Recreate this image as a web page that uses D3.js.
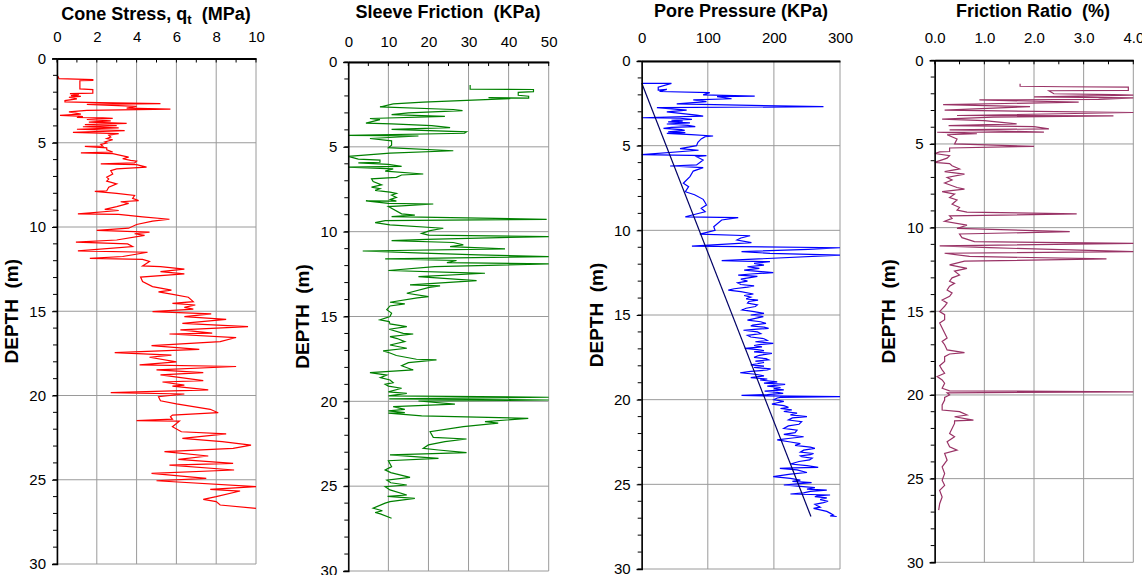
<!DOCTYPE html>
<html>
  <head>
    <meta charset="utf-8">
    <title>CPT profile</title>
    <script src="https://d3js.org/d3.v7.min.js"></script>
    <style>
      body { margin: 0; background: #fff; }
      svg { font-family: "Liberation Sans", Arial, sans-serif; }
      .grid line { stroke: #9a9a9a; stroke-width: 1; }
      .tick text { font-size: 15px; fill: #000; }
      .title { font-size: 18px; font-weight: bold; }
      .ylabel { font-size: 19px; font-weight: bold; }
      .trace { fill: none; stroke-width: 1.2; stroke-linejoin: miter; }
    </style>
  </head>
  <body>
    <svg id="chart" width="1142" height="575"></svg>
    <script>
      // depth (m), value pairs
      var coneStress = [
        [1.05,0.05],[1.2,0.1],[1.25,1.8],[1.3,1.8],[1.32,1.15],[1.8,1.15],[1.85,1.8],[2.05,1.8],[2.08,0.65],[2.15,1.1],
        [2.2,0.7],[2.25,1.2],[2.3,0.6],[2.4,1.0],[2.5,0.4],[2.58,0.4],[2.62,2.1],[2.68,5.2],[2.72,1.5],[2.84,4.0],
        [2.95,3.5],[3.0,5.7],[3.08,1.5],[3.17,0.6],[3.3,1.2],[3.38,0.15],[3.42,1.1],[3.45,1.3],[3.5,1.0],[3.52,2.3],
        [3.55,2.8],[3.62,1.5],[3.7,2.7],[3.78,1.6],[3.85,3.5],[3.92,1.4],[3.98,3.0],[4.05,1.3],[4.12,3.1],[4.2,1.0],
        [4.28,3.4],[4.38,0.8],[4.46,3.1],[4.55,2.6],[4.66,2.7],[4.75,2.5],[4.82,2.8],[4.95,2.4],[5.02,2.5],[5.1,2.2],
        [5.2,2.3],[5.22,1.4],[5.3,2.5],[5.42,2.5],[5.55,2.8],[5.6,1.2],[5.65,2.8],[5.75,3.2],[5.85,3.6],[5.95,3.3],
        [6.05,3.7],[6.09,4.0],[6.2,3.9],[6.25,2.2],[6.3,4.0],[6.45,4.5],[6.55,3.0],[6.65,2.7],[6.85,2.8],[7.04,2.5],
        [7.15,2.6],[7.28,2.5],[7.44,3.0],[7.64,2.6],[7.85,2.5],[7.88,1.9],[8.0,3.0],[8.13,3.9],[8.3,3.8],[8.43,4.1],
        [8.5,3.2],[8.6,3.6],[8.79,3.0],[8.95,2.4],[9.02,3.1],[9.22,1.05],[9.25,3.1],[9.4,4.3],[9.54,5.65],[9.65,4.8],
        [9.85,4.0],[10.07,3.6],[10.2,2.0],[10.31,4.65],[10.4,3.9],[10.5,4.4],[10.77,3.0],[10.9,0.95],[11.0,3.55],[11.16,3.8],
        [11.42,1.05],[11.5,4.55],[11.75,3.3],[11.86,1.65],[11.92,4.3],[12.05,4.65],[12.31,4.3],[12.35,5.2],[12.5,6.4],[12.65,5.2],
        [12.78,6.4],[12.97,4.2],[13.24,4.3],[13.54,4.8],[13.75,5.75],[13.85,5.1],[13.98,5.75],[14.17,6.6],[14.43,6.85],[14.53,5.8],
        [14.63,6.95],[14.77,6.4],[14.87,6.85],[15.02,4.8],[15.16,7.75],[15.32,6.4],[15.48,8.5],[15.72,6.3],[15.91,9.6],[16.1,6.2],
        [16.3,7.8],[16.35,5.65],[16.56,9.0],[16.8,8.2],[17.04,4.75],[17.26,7.15],[17.45,2.9],[17.6,5.75],[17.73,4.65],[18.0,6.0],
        [18.18,4.15],[18.28,9.0],[18.48,5.0],[18.64,7.35],[18.78,5.2],[19.12,7.35],[19.2,5.3],[19.38,6.4],[19.44,5.8],[19.67,7.6],
        [19.83,2.7],[19.91,6.4],[20.07,5.1],[20.31,5.2],[20.5,6.0],[20.82,7.7],[21.02,8.1],[21.16,5.8],[21.26,5.7],[21.4,5.8],
        [21.49,4.0],[21.52,6.15],[21.85,5.8],[22.15,6.25],[22.28,8.5],[22.54,6.3],[22.74,8.3],[22.94,9.75],[23.14,8.85],[23.33,5.4],
        [23.59,7.6],[23.79,6.1],[24.03,8.85],[24.13,5.65],[24.42,8.9],[24.62,4.75],[24.92,7.5],[25.06,5.0],[25.41,10.0],[25.57,7.7],
        [25.67,9.2],[26.0,8.0],[26.16,7.35],[26.3,8.0],[26.5,8.2],[26.7,10.0]
      ];
      var sleeveFriction = [
        [1.35,30.4],[1.6,30.4],[1.62,46.2],[1.75,46.2],[1.79,42.4],[1.96,42.4],[2.02,45],[2.13,45],[2.1,35],[2.16,40.4],
        [2.37,18.7],[2.47,11.2],[2.65,7.9],[2.8,26.2],[2.87,28.5],[3.0,15],[3.1,10.8],[3.2,24.1],[3.33,5.4],[3.4,7.9],
        [3.6,4.4],[3.65,10.8],[3.75,20.8],[3.87,25.4],[3.97,10.8],[4.12,29.5],[4.2,29.0],[4.32,0],[4.36,17.5],[4.51,5.4],
        [4.65,10.8],[4.9,10.8],[5.05,10.0],[5.23,26.2],[5.37,10.4],[5.43,7.2],[5.56,0],[5.72,2.5],[5.78,7.9],[5.91,7.9],
        [5.95,2.5],[6.03,10.0],[6.15,13.3],[6.2,0],[6.3,11.2],[6.43,9.2],[6.6,18.7],[6.66,13.3],[6.8,12.0],[6.89,5.8],
        [7.05,6.2],[7.24,8.3],[7.37,5.8],[7.47,7.9],[7.57,6.7],[7.67,10.4],[7.75,12.0],[7.85,10.8],[7.98,12.0],[8.1,10.5],
        [8.2,12.0],[8.19,4.4],[8.33,10.0],[8.37,21.2],[8.48,13.3],[8.52,10.0],[8.95,13.3],[9.03,16.6],[9.11,10.8],[9.27,49.5],
        [9.35,9.2],[9.47,6.7],[9.6,10.4],[9.8,23.7],[9.94,20.4],[10.1,18.3],[10.2,20.0],[10.29,50],[10.45,19.5],[10.53,10.8],
        [10.64,26.2],[10.78,28.7],[10.88,25.4],[11.02,39.1],[11.14,3.6],[11.27,18.7],[11.37,32.4],[11.47,50],[11.6,9.2],[11.7,27],
        [11.82,24.6],[11.9,50],[12.06,21.6],[12.29,10.0],[12.41,27.9],[12.45,34.1],[12.65,17.5],[12.88,32.0],[13.14,15.4],[13.2,22.9],
        [13.28,20.2],[13.63,14.6],[13.83,20.0],[13.9,17.2],[14.16,10.4],[14.26,14.1],[14.38,10.4],[14.6,9.6],[14.8,10.8],[15.0,10.4],
        [15.2,7.9],[15.3,10.2],[15.44,10.4],[15.6,14.6],[15.75,10.2],[15.99,13.7],[16.03,16.2],[16.19,10.4],[16.3,12.2],[16.48,14.1],
        [16.68,10.4],[16.87,14.6],[17.03,8.7],[17.15,10.4],[17.3,12.0],[17.52,17.0],[17.56,22.0],[17.72,15.0],[17.9,13.3],[18.15,16.2],
        [18.31,5.4],[18.45,9.6],[18.6,8.0],[18.74,10.4],[18.9,11.2],[19.0,9.2],[19.1,10.0],[19.23,13.3],[19.44,10.0],[19.53,14.6],
        [19.68,10.0],[19.76,50],[19.86,10.2],[19.92,50],[19.98,17.5],[20.16,26.6],[20.31,11.2],[20.47,14.1],[20.56,10.0],[20.67,14.1],
        [20.7,10.0],[20.86,18.3],[21.0,44.9],[21.2,34.1],[21.29,37.4],[21.49,28.7],[21.79,20.4],[22.12,21.2],[22.22,29.5],[22.37,24.1],
        [22.57,20.0],[22.77,18.7],[22.87,22.5],[23.02,29.5],[23.16,10.4],[23.36,22.5],[23.5,10.0],[23.85,10.8],[24.04,9.2],[24.2,10.6],
        [24.48,15.4],[24.64,9.6],[24.8,10.6],[24.93,14.6],[25.03,9.2],[25.22,10.4],[25.52,14.6],[25.6,9.8],[25.72,16.6],[25.91,10.4],
        [26.0,9.2],[26.3,6.2],[26.45,8.5],[26.55,6.7],[26.63,8.0],[26.89,10.8]
      ];
      var porePressure = [
        [1.32,1],[1.32,45],[1.55,25],[1.72,25],[1.68,38],[1.8,27],[1.87,103],[2.0,93],[2.07,171],[2.1,114],
        [2.23,136],[2.3,78],[2.4,98],[2.53,53],[2.7,275],[2.75,23],[2.9,68],[3.0,38],[3.2,83],[3.25,93],
        [3.35,0],[3.38,58],[3.45,76],[3.5,45],[3.55,62],[3.6,40],[3.65,73],[3.72,38],[3.8,70],[3.88,81],
        [3.92,45],[3.98,33],[4.05,60],[4.1,65],[4.18,40],[4.23,66],[4.27,38],[4.35,75],[4.43,108],[4.47,96],
        [4.6,90],[4.8,85],[5.0,83],[5.17,58],[5.27,86],[5.53,0],[5.59,98],[5.65,83],[5.85,93],[6.14,83],
        [6.2,43],[6.3,93],[6.5,78],[6.83,73],[7.22,63],[7.42,71],[7.72,66],[7.9,80],[8.17,93],[8.3,95],
        [8.5,98],[8.7,90],[8.9,96],[9.2,66],[9.25,146],[9.39,121],[9.79,109],[10.0,111],[10.22,88],[10.32,164],
        [10.45,150],[10.57,144],[10.73,166],[10.93,76],[11.03,300],[11.12,252],[11.26,151],[11.36,194],[11.46,300],[11.79,121],
        [11.85,194],[11.95,170],[12.05,185],[12.15,160],[12.25,178],[12.35,155],[12.5,199],[12.58,165],[12.64,146],[12.72,175],
        [12.78,166],[12.88,150],[13.0,160],[13.1,145],[13.2,150],[13.28,170],[13.35,160],[13.45,140],[13.53,131],[13.62,150],
        [13.76,169],[13.85,155],[13.95,165],[14.05,158],[14.12,176],[14.2,162],[14.3,160],[14.4,175],[14.5,172],[14.6,158],
        [14.7,152],[14.8,170],[14.9,185],[15.0,165],[15.1,184],[15.2,172],[15.3,160],[15.4,180],[15.5,188],[15.6,168],
        [15.65,165],[15.72,185],[15.79,192],[15.85,170],[15.9,154],[16.0,175],[16.1,180],[16.2,160],[16.3,165],[16.4,185],
        [16.5,190],[16.58,172],[16.67,199],[16.75,178],[16.8,170],[16.88,182],[16.97,156],[17.05,175],[17.1,185],[17.18,170],
        [17.27,197],[17.38,178],[17.5,170],[17.58,188],[17.65,192],[17.72,172],[17.8,185],[17.88,175],[17.95,165],[18.02,185],
        [18.1,170],[18.18,195],[18.25,190],[18.33,165],[18.41,149],[18.5,172],[18.6,185],[18.7,165],[18.78,190],[18.84,179],
        [18.95,205],[19.02,185],[19.1,217],[19.2,190],[19.28,210],[19.35,200],[19.42,215],[19.5,186],[19.57,205],[19.63,214],
        [19.7,190],[19.75,151],[19.78,190],[19.82,300],[19.86,210],[19.9,205],[20.0,200],[20.1,215],[20.18,205],[20.26,197],
        [20.35,215],[20.45,222],[20.52,210],[20.6,227],[20.7,215],[20.8,235],[20.9,225],[21.0,250],[21.08,228],[21.2,222],
        [21.3,242],[21.45,238],[21.55,222],[21.7,215],[21.8,235],[21.95,232],[22.05,215],[22.19,245],[22.28,225],[22.38,205],
        [22.5,225],[22.6,240],[22.7,232],[22.8,255],[22.88,262],[22.98,245],[23.1,240],[23.18,260],[23.25,255],[23.32,240],
        [23.37,242],[23.45,258],[23.56,254],[23.65,238],[23.8,225],[23.9,250],[24.0,267],[24.03,230],[24.06,209],[24.15,235],
        [24.3,250],[24.4,225],[24.55,199],[24.65,225],[24.75,240],[24.82,228],[24.9,257],[24.97,235],[25.04,215],[25.12,240],
        [25.2,262],[25.28,250],[25.34,280],[25.42,255],[25.5,245],[25.57,225],[25.63,285],[25.68,265],[25.73,262],[25.8,280],
        [25.9,270],[26.0,282],[26.08,275],[26.18,262],[26.25,265],[26.35,270],[26.42,260],[26.55,275],[26.6,280],[26.7,285],
        [26.81,290],[26.87,285],[26.9,295]
      ];
      var hydrostatic = [[1.3,0],[26.9,256]];
      var frictionRatio = [
        [1.4,1.72],[1.55,1.72],[1.58,2.6],[1.6,3.9],[1.8,3.9],[1.82,2.3],[2.0,2.4],[2.05,3.6],[2.08,4.0],[2.18,2.0],
        [2.25,4.0],[2.33,3.3],[2.37,0.9],[2.5,2.9],[2.65,0.17],[2.77,1.92],[2.98,0.2],[3.12,4.0],[3.3,0.45],[3.32,3.6],
        [3.4,1.18],[3.51,0.15],[3.6,1.0],[3.8,1.65],[3.9,0.28],[3.96,2.0],[4.1,2.3],[4.16,0.3],[4.29,2.2],[4.3,0.05],
        [4.39,0.85],[4.45,0.25],[4.7,0.45],[5.0,0.4],[5.14,2.0],[5.24,0.3],[5.45,0.3],[5.47,0.1],[5.57,0.0],[5.7,0.3],
        [5.85,0.25],[6.1,0.0],[6.17,0.3],[6.3,0.35],[6.49,0.5],[6.65,0.2],[6.8,0.6],[7.0,0.25],[7.15,0.35],[7.33,0.2],
        [7.6,0.45],[7.7,0.6],[7.85,0.15],[8.0,0.4],[8.2,0.3],[8.35,0.45],[8.6,0.35],[8.8,0.5],[8.95,0.45],[9.07,0.65],
        [9.18,2.86],[9.3,0.3],[9.45,0.35],[9.62,0.2],[9.85,0.65],[10.05,0.45],[10.24,2.72],[10.38,0.5],[10.6,0.55],[10.84,0.8],
        [10.94,4.0],[11.09,0.1],[11.2,1.1],[11.43,4.0],[11.53,0.2],[11.72,0.7],[11.87,3.46],[12.0,0.6],[12.23,0.3],[12.43,0.65],
        [12.6,0.4],[12.83,0.5],[13.0,0.35],[13.2,0.3],[13.33,0.4],[13.5,0.3],[13.73,0.25],[13.9,0.35],[14.1,0.3],[14.33,0.15],
        [14.5,0.25],[14.7,0.2],[14.85,0.15],[15.02,0.1],[15.2,0.2],[15.5,0.2],[15.7,0.1],[16.0,0.15],[16.3,0.2],[16.6,0.25],
        [16.8,0.15],[17.0,0.2],[17.31,0.25],[17.47,0.6],[17.55,0.3],[17.71,0.2],[18.0,0.2],[18.25,0.1],[18.5,0.15],[18.7,0.2],
        [18.9,0.05],[19.1,0.15],[19.3,0.2],[19.6,0.15],[19.75,0.3],[19.81,4.0],[19.87,0.25],[20.0,0.3],[20.15,0.2],[20.3,0.2],
        [20.6,0.15],[20.9,0.15],[21.0,0.5],[21.2,0.65],[21.3,0.4],[21.5,0.78],[21.55,0.4],[21.7,0.4],[22.0,0.35],[22.3,0.3],
        [22.5,0.4],[22.8,0.25],[23.1,0.3],[23.3,0.45],[23.5,0.2],[23.9,0.25],[24.3,0.15],[24.7,0.2],[25.1,0.15],[25.4,0.2],
        [25.7,0.1],[26.1,0.15],[26.5,0.1],[26.88,0.08]
      ];

      // axis tick values
      var depthTicks = [0, 5, 10, 15, 20, 25, 30];
      var coneTicks = [0, 2, 4, 6, 8, 10];
      var sleeveTicks = [0, 10, 20, 30, 40, 50];
      var poreTicks = [0, 100, 200, 300];
      var ratioTicks = [0, 1, 2, 3, 4];

      var svg = d3.select("#chart");

      var panels = [
        { left: 57, right: 256, top: 58.5, bottom: 564, max: 10, ticks: coneTicks, minor: 1, fmt: d3.format("d"),
          title: "cone", tx: 156, ty: 20, lx: 11, labelGap: 17,
          lines: [{ data: coneStress, colour: "#ff0000" }] },
        { left: 348.3, right: 548.7, top: 62, bottom: 571, max: 50, ticks: sleeveTicks, minor: 5, fmt: d3.format("d"),
          title: "Sleeve Friction  (KPa)", tx: 448, ty: 18, lx: 302, labelGap: 15,
          lines: [{ data: sleeveFriction, colour: "#008000" }] },
        { left: 641.7, right: 840, top: 61, bottom: 569, max: 300, ticks: poreTicks, minor: null, fmt: d3.format("d"),
          title: "Pore Pressure (KPa)", tx: 741, ty: 17, lx: 596, labelGap: 18,
          lines: [{ data: porePressure, colour: "#0000ff" }, { data: hydrostatic, colour: "#000066" }] },
        { left: 934.7, right: 1133.3, top: 60.3, bottom: 562.3, max: 4, ticks: ratioTicks, minor: 0.5, fmt: d3.format(".1f"),
          title: "Friction Ratio  (%)", tx: 1033, ty: 17, lx: 888, labelGap: 17,
          lines: [{ data: frictionRatio, colour: "#993366" }] }
      ];

      panels.forEach(function(p) {
        var x = d3.scaleLinear().domain([0, p.max]).range([p.left, p.right]);
        var y = d3.scaleLinear().domain([0, 30]).range([p.top, p.bottom]);
        var g = svg.append("g");

        // grid
        var grid = g.append("g").classed("grid", true);
        grid.selectAll(".vg").data(p.ticks).enter().append("line")
          .attr("x1", function(d) { return x(d); }).attr("x2", function(d) { return x(d); })
          .attr("y1", p.top).attr("y2", p.bottom);
        grid.selectAll(".hg").data(depthTicks).enter().append("line")
          .attr("x1", p.left).attr("x2", p.right)
          .attr("y1", function(d) { return y(d); }).attr("y2", function(d) { return y(d); });

        // traces
        var line = d3.line()
          .x(function(d) { return x(d[1]); })
          .y(function(d) { return y(d[0]); });
        p.lines.forEach(function(l) {
          g.append("path").classed("trace", true)
            .attr("d", line(l.data))
            .attr("stroke", l.colour);
        });

        // top axis
        var topAxis = d3.axisTop(x).tickValues(p.ticks).tickFormat(p.fmt).tickSize(0).tickPadding(p.labelGap);
        var ta = g.append("g").attr("transform", "translate(0," + p.top + ")").call(topAxis);
        ta.select(".domain").attr("stroke", "#000").attr("stroke-width", 2);
        if (p.minor) {
          g.selectAll(".mt").data(d3.range(0, p.max + 1e-9, p.minor)).enter().append("line")
            .attr("x1", function(d) { return x(d); }).attr("x2", function(d) { return x(d); })
            .attr("y1", p.top).attr("y2", p.top + 4)
            .attr("stroke", "#000").attr("stroke-width", 1);
        }

        // left axis
        var leftAxis = d3.axisLeft(y).tickValues(depthTicks).tickSize(5).tickPadding(6);
        var la = g.append("g").attr("transform", "translate(" + p.left + ",0)").call(leftAxis);
        la.select(".domain").attr("stroke", "#000").attr("stroke-width", 1.5);
        g.selectAll(".mdt").data(d3.range(0, 31, 1)).enter().append("line")
          .attr("x1", p.left - 4).attr("x2", p.left)
          .attr("y1", function(d) { return y(d); }).attr("y2", function(d) { return y(d); })
          .attr("stroke", "#000");
        g.selectAll(".tick text").style("font-family", "Liberation Sans, Arial, sans-serif");

        // titles
        var t = g.append("text").classed("title", true)
          .attr("x", p.tx).attr("y", p.ty).attr("text-anchor", "middle");
        if (p.title === "cone") {
          t.append("tspan").text("Cone Stress, q");
          t.append("tspan").attr("dy", 4).style("font-size", "13px").text("t");
          t.append("tspan").attr("dy", -4).text("\u00a0\u00a0(MPa)");
        } else {
          t.text(p.title.replace(/  /g, "\u00a0\u00a0"));
        }
        g.append("text").classed("ylabel", true)
          .attr("transform", "translate(" + p.lx + "," + ((p.top + p.bottom) / 2) + ") rotate(-90)")
          .attr("text-anchor", "middle").attr("dy", "0.35em")
          .text("DEPTH\u00a0\u00a0(m)");
      });
    </script>
  </body>
</html>
